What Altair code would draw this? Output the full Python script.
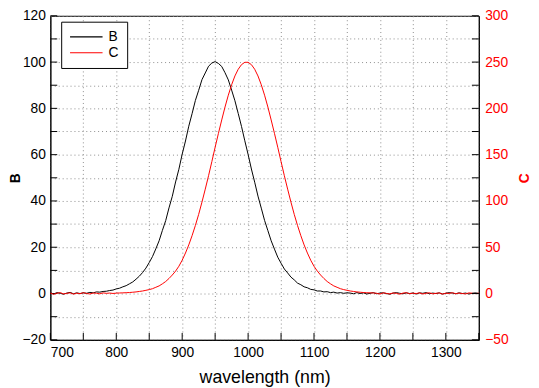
import altair as alt
import pandas as pd

# ---- data ----
wavelength = list(range(700, 1355, 5))

b_values = [
    0.3, -0.2, 0.4, 0.1, -0.3, 0.2, 0.5, -0.1, 0.3, 0.0,
    0.3, 0.1, 0.5, 0.3, 0.7, 0.6, 0.9, 1.0, 1.3, 1.5,
    2.0, 2.3, 2.9, 3.4, 4.2, 5.0, 6.2, 7.5, 9.1, 11.0,
    13.4, 16.0, 19.3, 22.8, 27.3, 31.5, 37.0, 42.0, 48.2, 53.7,
    60.2, 65.9, 72.3, 77.7, 83.4, 87.8, 92.4, 95.3, 98.2, 99.6,
    100.2, 99.4, 98.1, 95.4, 92.3, 87.9, 83.3, 77.8, 72.2, 66.0,
    60.1, 53.8, 48.1, 42.1, 36.9, 31.6, 27.2, 22.8, 19.2, 15.7,
    13.1, 10.6, 8.9, 7.1, 5.9, 4.5, 3.8, 2.9, 2.5, 1.8,
    1.6, 1.1, 1.1, 0.7, 0.8, 0.4, 0.6, 0.2, 0.4, 0.1,
    0.3,
    0.2, -0.1, 0.4, 0.0, 0.3, -0.2, 0.1, 0.4, -0.1, 0.2,
    0.3, 0.0, -0.3, 0.2, 0.4, 0.1, -0.1, 0.3, 0.0, 0.2,
    -0.2, 0.3, 0.1, 0.4, -0.1, 0.2, 0.0, 0.3, -0.2, 0.1,
    0.4, 0.2, -0.1, 0.3, 0.0, 0.2, -0.2, 0.1, 0.3, 0.0,
]

c_values = [
    0.5, -0.8, 0.3, 1.0, -0.4, 0.2, 0.8, -0.6, 0.4, -0.2,
    0.9, 0.1, -0.5, 0.6, 0.3, -0.3, 0.7, 0.2, 0.5, 0.1, 0.4,
    0.6, 0.75, 0.9, 1.1, 1.4, 1.75, 2.25, 2.75, 3.5, 4.25,
    5.25, 6.75, 8.25, 10.5, 13.0, 16.25, 20.0, 24.25, 29.5, 36.0,
    43.75, 52.5, 62.5, 73.5, 85.5, 98.75, 112.75, 127.25, 142.5, 158.0,
    173.0, 187.5, 201.5, 214.25, 225.5, 235.0, 242.25, 247.25, 249.75, 249.75,
    247.25, 242.25, 235.0, 225.5, 214.25, 201.5, 187.5, 173.0, 158.0, 142.5,
    127.25, 112.75, 98.75, 85.5, 73.5, 62.5, 52.5, 43.75, 36.0, 29.5,
    24.25, 20.0, 16.25, 13.0, 10.5, 8.25, 6.75, 5.25, 4.25, 3.5,
    2.75, 2.25, 1.75, 1.4, 1.1, 0.9, 0.75, 0.6,
    0.3, -0.6, 0.8, 0.1, -0.4, 0.6, 0.2, -0.7, 0.5, 0.9,
    -0.2, 0.4, 0.0, 0.7, -0.5, 0.3, 0.8, -0.3, 0.2, 0.6,
    -0.6, 0.4, 0.1, 0.9, -0.2, 0.5, 0.0, -0.4, 0.7, 0.3,
    -0.1, 0.5,
]

series_names = ["B", "C"]
series_colors = ["#000000", "#ff0000"]

x_ticks = list(range(700, 1351, 50))
left_ticks = list(range(-20, 121, 10))
right_ticks = list(range(-50, 301, 25))
right_labels = list(range(-50, 301, 50))

# ---- chart ----
W, H = 435, 329
FONT = "Liberation Sans"
TICK = 7

df_b = pd.DataFrame({"wavelength": wavelength, "value": b_values, "series": "B"})
df_c = pd.DataFrame({"wavelength": wavelength, "value": c_values, "series": "C"})
df_xt = pd.DataFrame({"wavelength": x_ticks})
df_lt = pd.DataFrame({"value": left_ticks})
df_rt = pd.DataFrame({"value": right_ticks})

xscale = alt.Scale(domain=[700, 1350], nice=False, zero=False)
yl_scale = alt.Scale(domain=[-20, 120], nice=False, zero=False)
yr_scale = alt.Scale(domain=[-50, 300], nice=False, zero=False)

common = dict(
    domainColor="black",
    domainWidth=1,
    labelFont=FONT,
    labelFontSize=14,
    titleFont=FONT,
)

x_axis = alt.Axis(
    values=x_ticks,
    labelExpr="datum.value % 100 == 0 ? datum.label : ''",
    format="d",
    title="wavelength (nm)",
    titleFontSize=18,
    titleFontWeight="normal",
    titleColor="black",
    labelColor="black",
    grid=True,
    gridColor="#8c8c8c",
    gridDash=[1, 3],
    gridWidth=1,
    ticks=False,
    labelPadding=6,
    titlePadding=9,
    **common,
)
yl_axis = alt.Axis(
    values=left_ticks,
    labelExpr="datum.value % 20 == 0 ? datum.label : ''",
    title="B",
    titleFontSize=14,
    titleFontWeight="bold",
    titleColor="black",
    labelColor="black",
    grid=True,
    gridColor="#8c8c8c",
    gridDash=[1, 3],
    gridWidth=1,
    ticks=False,
    labelPadding=5,
    titlePadding=0,
    **common,
)
yr_axis = alt.Axis(
    orient="right",
    values=right_labels,
    title="C",
    titleAngle=270,
    titleBaseline="bottom",
    titleFontSize=14,
    titleColor="#ff0000",
    titleFontWeight="bold",
    labelColor="#ff0000",
    grid=False,
    ticks=False,
    labelPadding=6,
    titlePadding=24,
    **common,
)

color = alt.Color(
    "series:N",
    scale=alt.Scale(domain=series_names, range=series_colors),
    legend=alt.Legend(
        title=None,
        orient="none",
        legendX=11,
        legendY=6,
        strokeColor="black",
        fillColor="white",
        padding=8,
        symbolType="stroke",
        symbolSize=1089,
        symbolStrokeWidth=1.2,
        clipHeight=15,
        labelFontSize=14,
        labelFont=FONT,
        labelColor="black",
        labelOffset=5,
        rowPadding=1,
    ),
)

x_enc = alt.X("wavelength:Q", scale=xscale, axis=x_axis)

line_b = alt.Chart(df_b).mark_line(strokeWidth=1).encode(
    x=x_enc,
    y=alt.Y("value:Q", scale=yl_scale, axis=yl_axis),
    color=color,
)
ticks_x = alt.Chart(df_xt).mark_rule(color="black", strokeWidth=1).encode(
    x=x_enc, y=alt.value(H), y2=alt.value(H - TICK)
)
ticks_l = alt.Chart(df_lt).mark_rule(color="black", strokeWidth=1).encode(
    y=alt.Y("value:Q", scale=yl_scale, axis=yl_axis),
    x=alt.value(0),
    x2=alt.value(TICK),
)
left = alt.layer(line_b, ticks_x, ticks_l)

line_c = alt.Chart(df_c).mark_line(strokeWidth=1).encode(
    x=x_enc,
    y=alt.Y("value:Q", scale=yr_scale, axis=yr_axis),
    color=color,
)
ticks_r = alt.Chart(df_rt).mark_rule(color="black", strokeWidth=1).encode(
    y=alt.Y("value:Q", scale=yr_scale, axis=yr_axis),
    x=alt.value(W),
    x2=alt.value(W - TICK),
)
right = alt.layer(line_c, ticks_r)

chart = (
    alt.layer(left, right)
    .resolve_scale(y="independent")
    .properties(
        width=W,
        height=H,
        background="white",
        autosize=alt.AutoSizeParams(type="none"),
        padding={"left": 43, "top": 5, "right": 53, "bottom": 46},
    )
    .configure_view(stroke="black", strokeWidth=1)
)

chart.save("out.html", embed_options={"renderer": "svg", "actions": False})
